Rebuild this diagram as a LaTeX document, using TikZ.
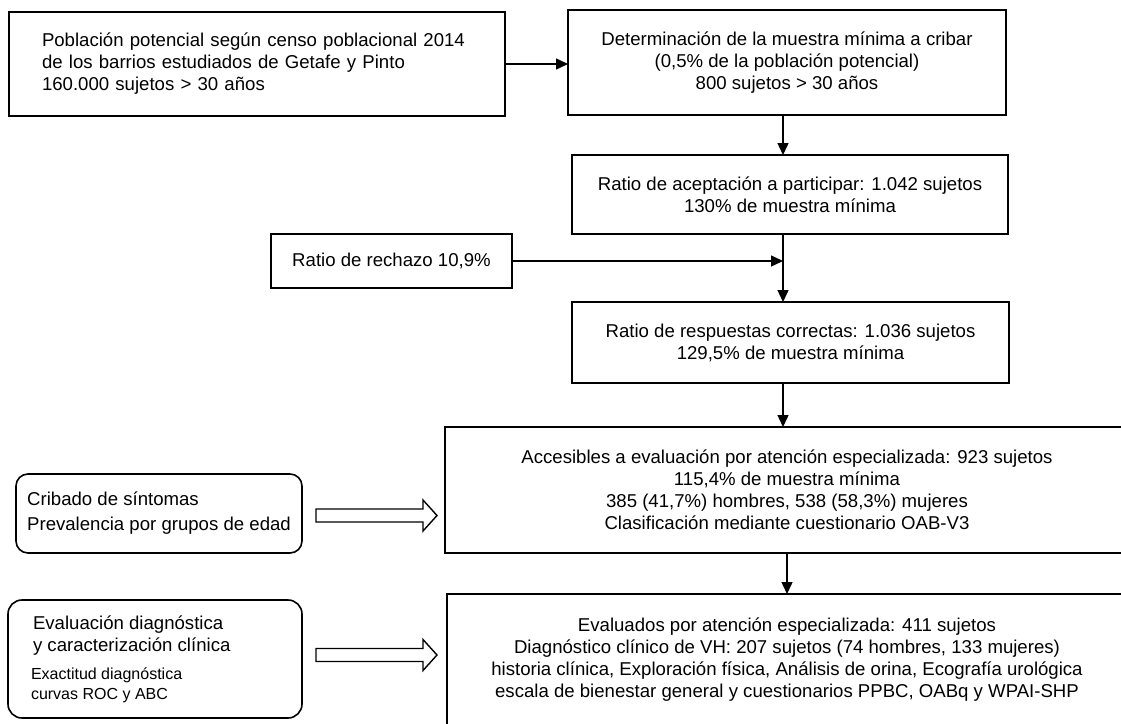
\documentclass[tikz,border=0pt]{standalone}
\usepackage{fontspec}
\setmainfont{Liberation Sans}
\usetikzlibrary{arrows.meta,calc}
\newcommand{\fsbig}{\fontsize{18.6}{22}\selectfont}
\newcommand{\fsbigw}{\fontsize{18.6}{25}\selectfont}
\newcommand{\fssmall}{\fontsize{16}{20}\selectfont}
\begin{document}
\begin{tikzpicture}[x=1pt,y=-1pt,
  box/.style={draw, line width=1.6pt, inner sep=0pt, outer sep=0pt, align=center, font=\fsbig},
  rbox/.style={box, rounded corners=12pt},
  arr/.style={line width=1.4pt, -{Triangle[length=12pt,width=11pt]}},
  barrow/.style={draw, line width=1.4pt, fill=white, line join=miter},
  txt/.style={anchor=base west, inner sep=0pt, outer sep=0pt}]
\fill[white] (0,0) rectangle (1121,723);
\useasboundingbox (0,0) rectangle (1121,723);

% main column
\node[box, minimum width=496pt, minimum height=104pt, text width=430pt, align=left] (b1) at (257,64)
  {Población potencial según censo poblacional 2014\\ de los barrios estudiados de Getafe y Pinto\\ 160.000 sujetos > 30 años};
\node[box, minimum width=438pt, minimum height=105pt] (b2) at (787,62.5)
  {Determinación de la muestra mínima a cribar\\ (0,5\% de la población potencial)\\ 800 sujetos > 30 años};
\node[box, minimum width=436pt, minimum height=79pt] (b3) at (790,194.5)
  {Ratio de aceptación a participar: 1.042 sujetos\\ 130\% de muestra mínima};
\node[box, minimum width=241pt, minimum height=54pt] (r) at (391.5,261)
  {Ratio de rechazo 10,9\%};
\node[box, minimum width=437pt, minimum height=81pt] (b4) at (790.5,342.5)
  {Ratio de respuestas correctas: 1.036 sujetos\\ 129,5\% de muestra mínima};
\node[box, minimum width=684pt, minimum height=126pt] (b5) at (787,490)
  {Accesibles a evaluación por atención especializada: 923 sujetos\\ 115,4\% de muestra mínima\\ 385 (41,7\%) hombres, 538 (58,3\%) mujeres\\ Clasificación mediante cuestionario OAB-V3};
\node[box, minimum width=680pt, minimum height=132pt] (b6) at (787,660)
  {Evaluados por atención especializada: 411 sujetos\\ Diagnóstico clínico de VH: 207 sujetos (74 hombres, 133 mujeres)\\ historia clínica, Exploración física, Análisis de orina, Ecografía urológica\\ escala de bienestar general y cuestionarios PPBC, OABq y WPAI-SHP};

% side boxes
\node[rbox, minimum width=286pt, minimum height=79pt, align=left, font=\fsbigw] (c1) at (159,513.5)
  {Cribado de síntomas\\ Prevalencia por grupos de edad};
\node[rbox, rounded corners=14pt, minimum width=294pt, minimum height=118pt] (c2) at (155,659) {};
\node[txt, font=\fsbig] (t2a) at (33,629.8) {Evaluación diagnóstica};
\node[txt, font=\fsbig] (t2b) at (33,651.8) {y caracterización clínica};
\node[txt, font=\fssmall] (t2c) at (31,679.2) {Exactitud diagnóstica};
\node[txt, font=\fssmall] (t2d) at (31,699.2) {curvas ROC y ABC};

% connectors
\coordinate (ax) at (783,0);
\draw[arr] (b1.east) -- (b1.east -| b2.west);
\draw[arr] (b2.south -| ax) -- (b3.north -| ax);
\draw[arr] (b3.south -| ax) -- (b4.north -| ax);
\draw[arr] (r.east) -- (r.east -| ax);
\draw[arr] (b4.south -| ax) -- (b5.north -| ax);
\draw[arr] (b5.south) -- (b6.north);

% block arrows
\draw[barrow] (316,509) -- (423,509) -- (423,500) -- (437,515.5) -- (423,531) -- (423,522) -- (316,522) -- cycle;
\draw[barrow] (316,648.5) -- (423,648.5) -- (423,639.5) -- (437,655) -- (423,670.5) -- (423,661.5) -- (316,661.5) -- cycle;
\end{tikzpicture}
\end{document}
